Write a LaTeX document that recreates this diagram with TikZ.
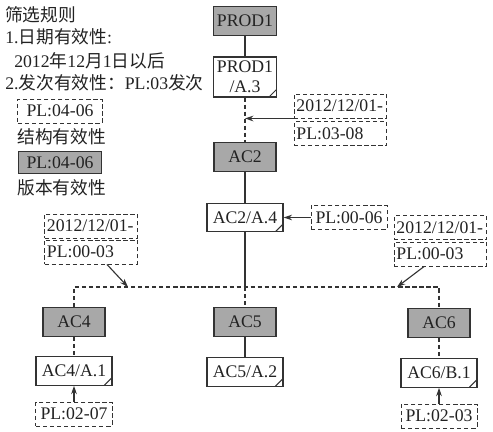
\documentclass[tikz,border=0pt]{standalone}
\usepackage{fontspec}
\setmainfont{Liberation Serif}
\newfontfamily\cjk{Noto Sans CJK SC}
\usetikzlibrary{arrows.meta}
\definecolor{ink}{HTML}{222222}
\definecolor{edge}{HTML}{333333}
\definecolor{itemfill}{HTML}{A8A8A8}

\begin{document}
\begin{tikzpicture}[
  x=0.025cm,y=-0.025cm,
  font=\fontsize{12.6}{14.2}\selectfont,text=ink,
  >={Stealth[length=6pt,width=4pt]},
  item/.style={draw=edge,fill=itemfill,line width=0.8pt,minimum width=1.55cm,
               minimum height=0.71cm,inner sep=1pt},
  rev/.style={draw=edge,fill=white,line width=0.8pt,minimum width=1.9cm,
              minimum height=0.71cm,inner sep=1pt,align=center,
              path picture={\draw[edge,line width=0.7pt]
                ([xshift=-0.19cm]path picture bounding box.south east) --
                ([yshift=0.19cm]path picture bounding box.south east);}},
  eff/.style={draw=edge,dash pattern=on 3pt off 2pt,line width=0.7pt,
              minimum width=1.9cm,minimum height=0.6cm,inner sep=1pt},
  date/.style={eff,text width=2.2cm,align=left,inner xsep=0.06cm},
  link/.style={draw=edge,line width=0.8pt},
  dlink/.style={link,dash pattern=on 3pt off 2pt},
  arrow/.style={->,draw=edge,line width=0.8pt},
  note/.style={anchor=west,inner sep=0pt}
]
\useasboundingbox (0,0) rectangle (493,432);

% Rules and legend
\node[note] (rule) at (5,15) {\cjk 筛选规则};
\node[note] (rule1) at (5,37) {1.{\cjk 日期有效性}:};
\node[note] (rule1b) at (14,61) {2012{\cjk 年}12{\cjk 月}1{\cjk 日以后}};
\node[note] (rule2) at (5,83) {2.{\cjk 发次有效性：}PL:03{\cjk 发次}};
\node[eff,minimum width=2.1cm] (legeff) at (60,111) {PL:04-06};
\node[note] (legefftxt) at (17,137) {\cjk 结构有效性};
\node[item,minimum width=2.08cm,minimum height=0.53cm] (legitem) at (60,162.5) {PL:04-06};
\node[note] (legitemtxt) at (17,188) {\cjk 版本有效性};

% Main column
\node[item,minimum width=1.58cm] (prod) at (245,21) {PROD1};
\node[rev,minimum width=1.58cm,minimum height=1.0cm] (prodrev) at (245,77) {PROD1\\/A.3};
\node[date] (date1) at (340.5,106) {2012/12/01-};
\node[date] (pl38) at (340.5,133.5) {PL:03-08};
\node[item] (ac2) at (245,157) {AC2};
\node[rev] (ac2rev) at (245,217.5) {AC2/A.4};
\node[eff] (pl06) at (349,217.5) {PL:00-06};

% Branches
\node[date] (ldate) at (91,226) {2012/12/01-};
\node[date] (lpl) at (91,252) {PL:00-03};
\node[date] (rdate) at (440.5,227.5) {2012/12/01-};
\node[date] (rpl) at (440.5,254) {PL:00-03};
\coordinate (bus) at (245,287);
\coordinate (busl) at (128,287);
\coordinate (busr) at (397,287);

\node[item] (ac4) at (74,322) {AC4};
\node[rev] (ac4rev) at (74,371) {AC4/A.1};
\node[eff] (pl07) at (74,414) {PL:02-07};
\node[item] (ac5) at (245,322) {AC5};
\node[rev] (ac5rev) at (245,372) {AC5/A.2};
\node[item] (ac6) at (439,323) {AC6};
\node[rev] (ac6rev) at (439,373) {AC6/B.1};
\node[eff] (pl03) at (439,416) {PL:02-03};

% Connectors
\draw[link] (prod) -- (prodrev);
\draw[dlink] (prodrev) -- (ac2);
\draw[arrow] (date1.south west) -- (date1.south west -| prodrev.south);
\draw[link] (ac2) -- (ac2rev);
\draw[arrow] (pl06) -- (ac2rev);
\draw[link] (ac2rev) -- (bus);
\draw[dlink] (bus) -- (ac5);
\draw[dlink] (ac4.north) |- (bus) -| (ac6.north);
\draw[arrow] ([xshift=0.4cm]lpl.south) -- (busl);
\draw[arrow] ([xshift=-0.41cm]rpl.south) -- (busr);
\draw[dlink] (ac4) -- (ac4rev);
\draw[link] (ac5) -- (ac5rev);
\draw[dlink] (ac6) -- (ac6rev);
\draw[arrow] (pl07) -- (ac4rev);
\draw[arrow] (pl03) -- (ac6rev);

\end{tikzpicture}
\end{document}
